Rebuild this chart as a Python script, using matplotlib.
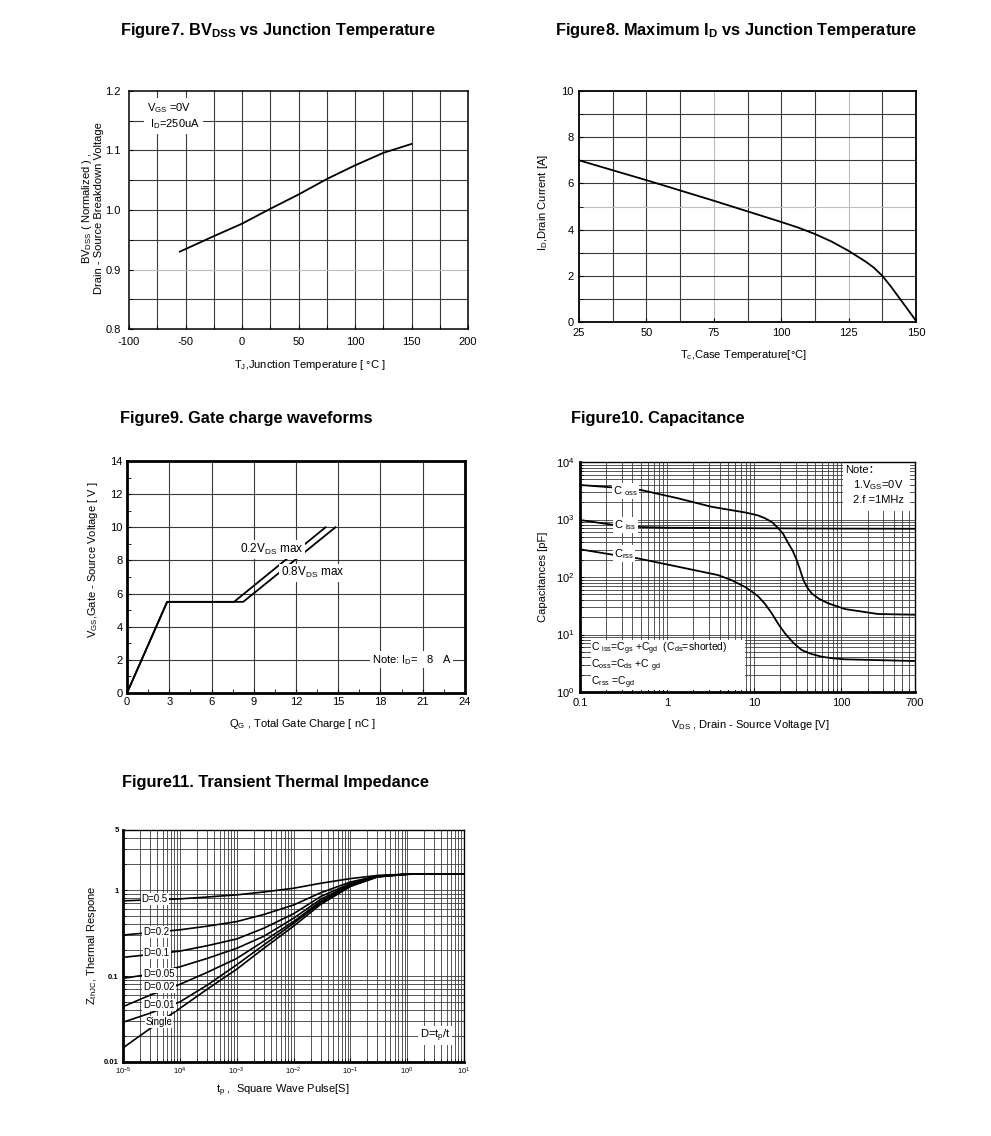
import matplotlib
matplotlib.use('Agg')
import matplotlib.pyplot as plt
import numpy as np
from matplotlib.patches import Rectangle

plt.rcParams['font.family'] = ['Liberation Sans', 'DejaVu Sans']
plt.rcParams['mathtext.fontset'] = 'custom'
plt.rcParams['mathtext.rm'] = 'Liberation Sans'
plt.rcParams['mathtext.it'] = 'Liberation Sans:italic'
plt.rcParams['mathtext.bf'] = 'Liberation Sans:bold'
plt.rcParams['mathtext.default'] = 'regular'
plt.rcParams['axes.unicode_minus'] = False

# ---------------- data ----------------
# Figure 7
tj = [-55, -25, 0, 25, 50, 75, 100, 125, 150]
bv_norm = [0.930, 0.956, 0.977, 1.002, 1.026, 1.052, 1.075, 1.096, 1.111]

# Figure 8
tc = [25, 50, 75, 100, 106.25, 112.5, 118.75, 125, 131.25, 134.4, 137.5, 140.6, 143.75, 146.9, 150]
id_max = [7.0, 6.14, 5.25, 4.33, 4.09, 3.81, 3.48, 3.08, 2.62, 2.35, 2.0, 1.55, 1.05, 0.55, 0.05]

# Figure 9
qg_02 = [0, 2.85, 7.6, 14.1]
vgs_02 = [0, 5.5, 5.5, 10]
qg_08 = [0, 2.85, 8.25, 14.8]
vgs_08 = [0, 5.5, 5.5, 10]

# Figure 10
vds_oss = [0.1, 0.23, 0.5, 1.33, 3.2, 6, 8, 11, 13.3, 16, 18.9, 21.5, 24.6, 27.5, 30.7,
           33.5, 36.6, 40.5, 45.6, 55, 70.8, 110, 265, 700]
c_oss = [3980, 3630, 3260, 2340, 1670, 1420, 1320, 1180, 1050, 900, 703, 560, 385, 290, 198,
         135, 89, 66, 52, 42, 34.8, 27.7, 22.7, 22.1]
vds_iss = [0.1, 0.25, 0.5, 1, 10, 100, 700]
c_iss = [980, 800, 740, 720, 705, 695, 690]
vds_rss = [0.1, 0.25, 0.46, 1.33, 3.84, 5.5, 8, 10, 11.1, 13.3, 15.9, 19, 22.5, 28, 35, 45,
           59.4, 80, 110, 700]
c_rss = [303, 241, 211, 151, 108, 88, 66, 52, 46, 34, 23.3, 15, 10.5, 7.2, 5.37, 4.6,
         4.11, 3.85, 3.7, 3.46]

# Figure 11
tp = [1e-5, 3e-5, 1e-4, 3e-4, 1e-3, 3e-3, 1e-2, 3e-2, 1e-1, 3e-1, 1, 3, 10]
z_d05 = [0.75, 0.77, 0.79, 0.83, 0.88, 0.95, 1.05, 1.20, 1.36, 1.48, 1.53, 1.54, 1.54]
z_d02 = [0.30, 0.32, 0.345, 0.38, 0.43, 0.52, 0.67, 0.93, 1.24, 1.46, 1.53, 1.54, 1.54]
z_d01 = [0.165, 0.178, 0.195, 0.225, 0.27, 0.36, 0.53, 0.84, 1.19, 1.45, 1.53, 1.54, 1.54]
z_d005 = [0.094, 0.105, 0.128, 0.16, 0.21, 0.29, 0.47, 0.78, 1.16, 1.44, 1.53, 1.54, 1.54]
z_d002 = [0.044, 0.060, 0.080, 0.11, 0.16, 0.255, 0.43, 0.74, 1.14, 1.43, 1.53, 1.54, 1.54]
z_d001 = [0.029, 0.037, 0.050, 0.078, 0.135, 0.23, 0.41, 0.71, 1.12, 1.43, 1.53, 1.54, 1.54]
z_single = [0.0146, 0.0245, 0.042, 0.070, 0.12, 0.21, 0.38, 0.68, 1.10, 1.42, 1.53, 1.54, 1.54]
z_labels = ['D=0.5', 'D=0.2', 'D=0.1', 'D=0.05', 'D=0.02', 'D=0.01', 'Single']

W, H = 991, 1136
fig = plt.figure(figsize=(W / 100, H / 100), dpi=100)


def ax_at(l, t, r, b):
    return fig.add_axes([l / W, 1 - b / H, (r - l) / W, (b - t) / H])


def ftext(x, y, s, **kw):
    kw.setdefault('ha', 'center')
    kw.setdefault('va', 'center')
    return fig.text(x / W, 1 - y / H, s, **kw)


GRID = '#3a3a3a'
LIGHT = '#bdbdbd'
TFS = 11.8
LFS = 8
KFS = 8

# ---------------- titles ----------------
ftext(120, 30, r'Figure7. BV$_{\mathbf{DSS}}$ vs Junction Temperature', ha='left', fontsize=TFS, fontweight='bold')
ftext(555, 30, r'Figure8. Maximum I$_{\mathbf{D}}$ vs Junction Temperature', ha='left', fontsize=TFS, fontweight='bold')
ftext(120, 418, 'Figure9. Gate charge waveforms', ha='left', fontsize=TFS, fontweight='bold')
ftext(571, 418, 'Figure10. Capacitance', ha='left', fontsize=TFS, fontweight='bold')
ftext(122, 782, 'Figure11. Transient Thermal Impedance', ha='left', fontsize=TFS, fontweight='bold')

# ---------------- Figure 7 ----------------
ax7 = ax_at(129, 91, 468, 329)
ax7.set_xlim(-100, 200)
ax7.set_ylim(0.8, 1.2)
ax7.set_xticks(np.arange(-100, 201, 50))
ax7.set_xticks(np.arange(-75, 200, 50), minor=True)
ax7.set_yticks([0.8, 0.9, 1.0, 1.1, 1.2])
ax7.set_yticklabels(['0.8', '0.9', '1.0', '1.1', '1.2'])
ax7.set_yticks([0.85, 0.95, 1.05, 1.15], minor=True)
for v in np.arange(-75, 200, 25):
    ax7.axvline(v, color=GRID, lw=0.8, zorder=1)
for v in [0.85, 0.9, 0.95, 1.0, 1.05, 1.1, 1.15]:
    ax7.axhline(v, color=LIGHT if abs(v - 0.9) < 1e-6 else GRID, lw=0.8, zorder=1)
ax7.plot(tj, bv_norm, color='black', lw=1.3, zorder=3)
ax7.text(-84, 1.158, 'V$_{GS}$ =0V\n I$_{D}$=250uA', fontsize=8, va='center', ha='left',
         linespacing=1.25, zorder=4, bbox=dict(boxstyle='square,pad=0.25', fc='white', ec='none'))
ax7.tick_params(direction='in', labelsize=KFS, length=3, pad=6)
ax7.tick_params(which='minor', direction='in', length=3)
for s in ax7.spines.values():
    s.set_linewidth(1.1)
ftext(310, 365, 'T$_{J}$,Junction Temperature [ °C ]', fontsize=LFS)
ftext(92, 208, 'BV$_{DSS}$ ( Normalized ) ,\nDrain - Source Breakdown Voltage', fontsize=LFS,
      rotation=90, linespacing=1.0)

# ---------------- Figure 8 ----------------
ax8 = ax_at(579, 91, 916, 322)
ax8.set_xlim(25, 150)
ax8.set_ylim(0, 10)
ax8.set_xticks([25, 50, 75, 100, 125, 150])
ax8.set_yticks([0, 2, 4, 6, 8, 10])
ax8.set_yticks([1, 3, 5, 7, 9], minor=True)
for v in np.arange(37.5, 150, 12.5):
    ax8.axvline(v, color=LIGHT if v in (75, 125) else GRID, lw=0.8, zorder=1)
for v in range(1, 10):
    ax8.axhline(v, color=LIGHT if v == 5 else GRID, lw=0.8, zorder=1)
ax8.plot(tc, id_max, color='black', lw=1.3, zorder=3)
ax8.tick_params(direction='in', labelsize=KFS, length=3, pad=4)
ax8.tick_params(which='minor', direction='in', length=3)
for s in ax8.spines.values():
    s.set_linewidth(1.3)
ftext(743, 355, 'T$_{c}$,Case Temperature[°C]', fontsize=LFS)
ftext(543, 203, 'I$_{D}$,Drain Current [A]', fontsize=LFS, rotation=90)

# ---------------- Figure 9 ----------------
ax9 = ax_at(127, 461, 465, 693)
ax9.set_xlim(0, 24)
ax9.set_ylim(0, 14)
ax9.set_xticks(np.arange(0, 25, 3))
ax9.set_xticks(np.arange(1.5, 24, 3), minor=True)
ax9.set_yticks(np.arange(0, 15, 2))
ax9.set_yticks(np.arange(1, 14, 1), minor=True)
for v in np.arange(3, 24, 3):
    ax9.axvline(v, color=GRID, lw=0.8, zorder=1)
for v in np.arange(2, 14, 2):
    ax9.axhline(v, color=GRID, lw=0.8, zorder=1)
ax9.plot(qg_02, vgs_02, color='black', lw=1.3, zorder=3)
ax9.plot(qg_08, vgs_08, color='black', lw=1.3, zorder=3)
tb = dict(boxstyle='square,pad=0.15', fc='white', ec='none')
ax9.text(8.0, 8.65, '0.2V$_{DS}$ max', fontsize=8.5, ha='left', va='center', zorder=4, bbox=tb)
ax9.text(10.9, 7.25, '0.8V$_{DS}$ max', fontsize=8.5, ha='left', va='center', zorder=4, bbox=tb)
ax9.text(17.4, 2.0, 'Note: I$_{D}$=   8   A', fontsize=8, ha='left', va='center', zorder=4, bbox=tb)
ax9.tick_params(direction='in', labelsize=KFS, length=3, pad=3)
ax9.tick_params(which='minor', direction='in', length=3)
for s in ax9.spines.values():
    s.set_linewidth(2.0)
ftext(302, 724, 'Q$_{G}$ , Total Gate Charge [ nC ]', fontsize=LFS)
ftext(93, 560, 'V$_{GS}$,Gate - Source Voltage [ V ]', fontsize=LFS, rotation=90)

# ---------------- Figure 10 ----------------
ax10 = ax_at(580, 462, 915, 692)
ax10.set_xscale('log')
ax10.set_yscale('log')
ax10.set_xlim(0.1, 700)
ax10.set_ylim(1, 1e4)
ax10.set_xticks([0.1, 1, 10, 100, 700])
ax10.set_xticklabels(['0.1', '1', '10', '100', '700'])
ax10.set_yticks([1, 10, 100, 1000, 10000])
ax10.set_yticklabels(['10$^{0}$', '10$^{1}$', '10$^{2}$', '10$^{3}$', '10$^{4}$'])
xs10 = [m * 10.0 ** e for e in range(-1, 3) for m in range(1, 10)]
xs10 = [v for v in xs10 if 0.1 < v < 700]
ys10 = [m * 10.0 ** e for e in range(0, 4) for m in range(1, 10)]
ys10 = [v for v in ys10 if 1 < v < 1e4]
ax10.set_xticks([v for v in xs10 if v not in (1, 10, 100)], minor=True)
ax10.set_yticks([v for v in ys10 if v not in (10, 100, 1000)], minor=True)
ax10.xaxis.set_minor_formatter(plt.NullFormatter())
ax10.yaxis.set_minor_formatter(plt.NullFormatter())
for v in xs10:
    ax10.axvline(v, color=GRID, lw=0.6, zorder=1)
for v in ys10:
    ax10.axhline(v, color=GRID, lw=0.6, zorder=1)
ax10.add_patch(Rectangle((0.033, 0.01), 0.46, 0.215, transform=ax10.transAxes, fc='white', ec='none', zorder=2))
ax10.add_patch(Rectangle((0.785, 0.785), 0.20, 0.21, transform=ax10.transAxes, fc='white', ec='none', zorder=2))
ax10.plot(vds_oss, c_oss, color='black', lw=1.3, zorder=3)
ax10.plot(vds_iss, c_iss, color='black', lw=1.3, zorder=3)
ax10.plot(vds_rss, c_rss, color='black', lw=1.3, zorder=3)
lb = dict(boxstyle='square,pad=0.12', fc='white', ec='none')
ax10.text(0.24, 3150, 'C $_{oss}$', fontsize=8, ha='left', va='center', zorder=4, bbox=lb)
ax10.text(0.245, 800, 'C $_{iss}$', fontsize=8, ha='left', va='center', zorder=4, bbox=lb)
ax10.text(0.245, 255, 'C$_{rss}$', fontsize=8, ha='left', va='center', zorder=4, bbox=lb)
ax10.text(0.134, 2.85,
          'C $_{iss}$=C$_{gs}$ +C$_{gd}$  (C$_{ds}$=shorted)\n'
          'C$_{oss}$=C$_{ds}$ +C $_{gd}$\n'
          'C$_{rss}$ =C$_{gd}$',
          fontsize=7.5, ha='left', va='center', linespacing=1.05, zorder=4)
ax10.text(0.79, 0.965, 'Note：', fontsize=8, ha='left', va='center', transform=ax10.transAxes,
          zorder=4, family=['Liberation Sans', 'Noto Sans CJK SC'])
ax10.text(0.815, 0.90, '1.V$_{GS}$=0V', fontsize=8, ha='left', va='center', transform=ax10.transAxes, zorder=4)
ax10.text(0.815, 0.835, '2.f =1MHz', fontsize=8, ha='left', va='center', transform=ax10.transAxes, zorder=4)
ax10.tick_params(which='both', direction='in', labelsize=KFS, pad=4)
ax10.tick_params(which='major', length=3)
ax10.tick_params(which='minor', length=2)
for k, s in ax10.spines.items():
    s.set_linewidth(2.0 if k in ('left', 'bottom') else 1.0)
ftext(750, 725, 'V$_{DS}$ , Drain - Source Voltage [V]', fontsize=LFS)
ftext(543, 577, 'Capacitances [pF]', fontsize=LFS, rotation=90)

# ---------------- Figure 11 ----------------
ax11 = ax_at(123, 830, 464, 1062)
ax11.set_xscale('log')
ax11.set_yscale('log')
ax11.set_xlim(1e-5, 10)
ax11.set_ylim(0.01, 5)
ax11.set_xticks([1e-5, 1e-4, 1e-3, 1e-2, 1e-1, 1, 10])
ax11.set_xticklabels(['10$^{-5}$', '10$^{4}$', '10$^{-3}$', '10$^{-2}$', '10$^{-1}$', '10$^{0}$', '10$^{1}$'])
ax11.set_yticks([0.01, 0.1, 1, 5])
ax11.set_yticklabels(['0.01', '0.1', '1', '5'], fontweight='bold')
xs11 = [m * 10.0 ** e for e in range(-5, 1) for m in range(1, 10)]
xs11 = [v for v in xs11 if 1e-5 < v < 10]
ys11 = [m * 10.0 ** e for e in range(-2, 1) for m in range(1, 10)]
ys11 = [v for v in ys11 if 0.01 < v < 5]
ax11.set_xticks([v for v in xs11], minor=True)
ax11.set_yticks([v for v in ys11], minor=True)
ax11.xaxis.set_minor_formatter(plt.NullFormatter())
ax11.yaxis.set_minor_formatter(plt.NullFormatter())
for v in xs11:
    ax11.axvline(v, color=GRID, lw=0.6, zorder=1)
for v in ys11:
    ax11.axhline(v, color=GRID, lw=0.6, zorder=1)
for z in [z_d05, z_d02, z_d01, z_d005, z_d002, z_d001, z_single]:
    ax11.plot(tp, z, color='black', lw=1.2, zorder=3)
lab_x = [3.6e-5, 3.8e-5, 3.9e-5, 4.3e-5, 4.3e-5, 4.3e-5, 4.3e-5]
lab_y = [0.79, 0.329, 0.185, 0.105, 0.074, 0.0455, 0.029]
for s, lx, ly in zip(z_labels, lab_x, lab_y):
    ax11.text(lx, ly, s, fontsize=7, ha='center', va='center', zorder=4,
              bbox=dict(boxstyle='square,pad=0.1', fc='white', ec='none'))
ax11.text(1.68, 0.0204, 'D=t$_{p}$/t', fontsize=8, ha='left', va='center', zorder=4,
          bbox=dict(boxstyle='square,pad=0.15', fc='white', ec='none'))
ax11.tick_params(which='both', direction='in', labelsize=5.5, pad=3)
ax11.tick_params(which='major', length=3)
ax11.tick_params(which='minor', length=2)
for k, s in ax11.spines.items():
    s.set_linewidth(2.0 if k in ('left', 'bottom') else 1.0)
ftext(283, 1091, 't$_{p}$ ,  Square Wave Pulse[S]', fontsize=LFS)
ftext(92, 945, 'Z$_{thJC}$, Thermal Respone', fontsize=LFS, rotation=90)

fig.savefig('out.png', dpi=100, facecolor='white')
